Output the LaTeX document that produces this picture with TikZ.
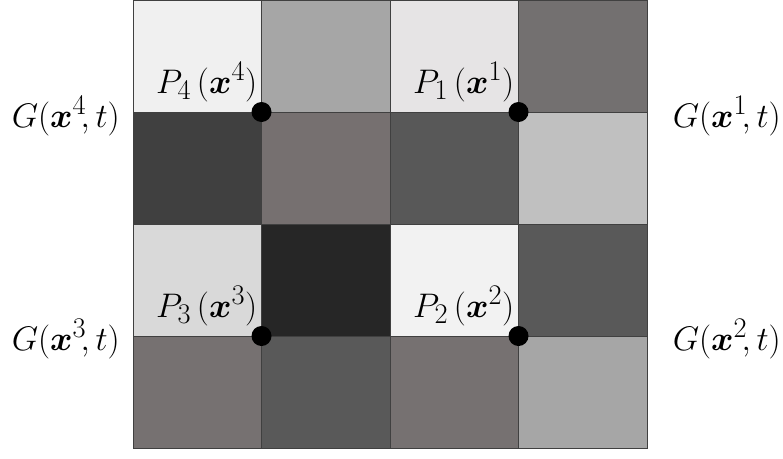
\documentclass[tikz,border=0pt]{standalone}
\usepackage{amsmath,bm}
\usepackage{graphicx}
\usetikzlibrary{positioning}

\newcommand{\plab}[1]{\scalebox{1.37}{$P_{#1}\,(\bm{x}^{#1})$}}
\newcommand{\glab}[1]{\scalebox{1.37}{$G(\bm{x}^{#1}\!,t)$}}

\begin{document}
\begin{tikzpicture}[x=1pt,y=-1pt,
  cellline/.style={draw=black!75,line width=0.9pt},
  dot/.style={circle,fill=black,inner sep=0pt,minimum size=20pt},
  lab/.style={inner sep=0pt,font=\Huge}]
\useasboundingbox (0,0) rectangle (783,458);

% Cells (col/row/shade)
\foreach \c/\r/\s in {0/0/F0F0F0, 1/0/A6A6A6, 2/0/E6E4E5, 3/0/737070,
                      0/1/404040, 1/1/767070, 2/1/585858, 3/1/C0C0C0,
                      0/2/D9D9D9, 1/2/262626, 2/2/F2F2F2, 3/2/595959,
                      0/3/767171, 1/3/595959, 2/3/767171, 3/3/A6A6A6} {
    \definecolor{cell}{HTML}{\s}
    \draw[cellline,fill=cell] (133+128.5*\c,112*\r) rectangle ++(128.5,112);
}

% Sample points
\node[dot] (p1) at (518.5,112) {};
\node[dot] (p2) at (518.5,336) {};
\node[dot] (p3) at (261.5,336) {};
\node[dot] (p4) at (261.5,112) {};

% Point labels
\node[lab,anchor=base east] (l1) at ([shift={(-4,-19)}]p1) {\plab{1}};
\node[lab,anchor=base east] (l2) at ([shift={(-4,-19)}]p2) {\plab{2}};
\node[lab,anchor=base east] (l3) at ([shift={(-4,-19)}]p3) {\plab{3}};
\node[lab,anchor=base east] (l4) at ([shift={(-4,-19)}]p4) {\plab{4}};

% Values
\node[lab,anchor=base east] (g4) at (120,127) {\glab{4}};
\node[lab,anchor=base east] (g1) at (781,127) {\glab{1}};
\node[lab,anchor=base east] (g3) at (120,350) {\glab{3}};
\node[lab,anchor=base east] (g2) at (781,350) {\glab{2}};
\end{tikzpicture}
\end{document}
